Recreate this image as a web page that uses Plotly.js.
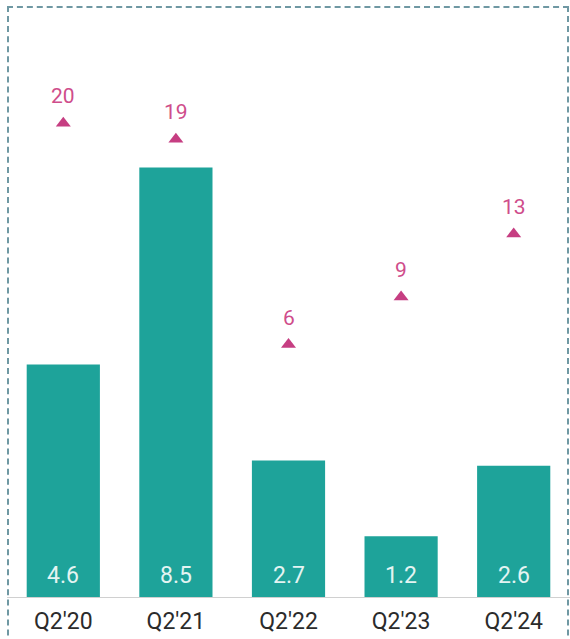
<!DOCTYPE html>
<html>
<head>
<meta charset="utf-8">
<script src="https://cdn.plot.ly/plotly-3.0.1.min.js"></script>
<style>
html,body{margin:0;padding:0;background:#fff;}
#wrap{position:relative;width:570px;height:639px;overflow:hidden;}
#chart{width:570px;height:639px;}
#frame{position:absolute;left:7px;top:6px;width:562px;height:700px;border:2px dashed #6f98a3;box-sizing:border-box;pointer-events:none;}
</style>
</head>
<body>
<div id="wrap"><div id="chart"></div><div id="frame"></div></div>
<script>
var categories = ["Q2'20", "Q2'21", "Q2'22", "Q2'23", "Q2'24"];
var barValues = [4.6, 8.5, 2.7, 1.2, 2.6];
var markerValues = [20, 19, 6, 9, 13];

var bars = {
  type: 'bar',
  x: categories,
  y: barValues,
  marker: {color: '#1ea39a'},
  width: 0.65,
  hoverinfo: 'skip'
};
var markers = {
  type: 'scatter',
  mode: 'markers',
  x: categories,
  y: markerValues,
  yaxis: 'y2',
  marker: {symbol: 'triangle-up', size: 13, color: '#c63e82'},
  hoverinfo: 'skip',
  cliponaxis: false
};

var annotations = [];
categories.forEach(function(c, i){
  annotations.push({
    x: c, y: 0, xref: 'x', yref: 'y',
    text: barValues[i].toFixed(1), showarrow: false,
    yanchor: 'middle', yshift: 22,
    font: {family: 'Roboto, sans-serif', size: 23, color: '#e4f4f2'}
  });
  annotations.push({
    x: c, y: markerValues[i], xref: 'x', yref: 'y2',
    text: String(markerValues[i]), showarrow: false,
    yanchor: 'middle', yshift: 27,
    font: {family: 'Roboto, sans-serif', size: 21, color: '#cf4d8b'}
  });
});

var layout = {
  width: 570, height: 639,
  margin: {l: 7, r: 0, t: 20, b: 42},
  paper_bgcolor: '#ffffff',
  plot_bgcolor: '#ffffff',
  showlegend: false,
  font: {family: 'Roboto, sans-serif', color: '#333333'},
  xaxis: {
    type: 'category',
    showline: true, linecolor: '#d0d0d0', linewidth: 1,
    showgrid: false, zeroline: false, ticks: '',
    ticklabelstandoff: 3,
    tickfont: {family: 'Roboto, sans-serif', size: 23, color: '#2b2b2b'}
  },
  yaxis: {range: [0, 11.42], visible: false, showgrid: false, zeroline: false},
  yaxis2: {range: [-9.98, 26.54], overlaying: 'y', visible: false, showgrid: false, zeroline: false},
  annotations: annotations
};

Plotly.newPlot('chart', [bars, markers], layout, {displayModeBar: false, staticPlot: true});
</script>
</body>
</html>
